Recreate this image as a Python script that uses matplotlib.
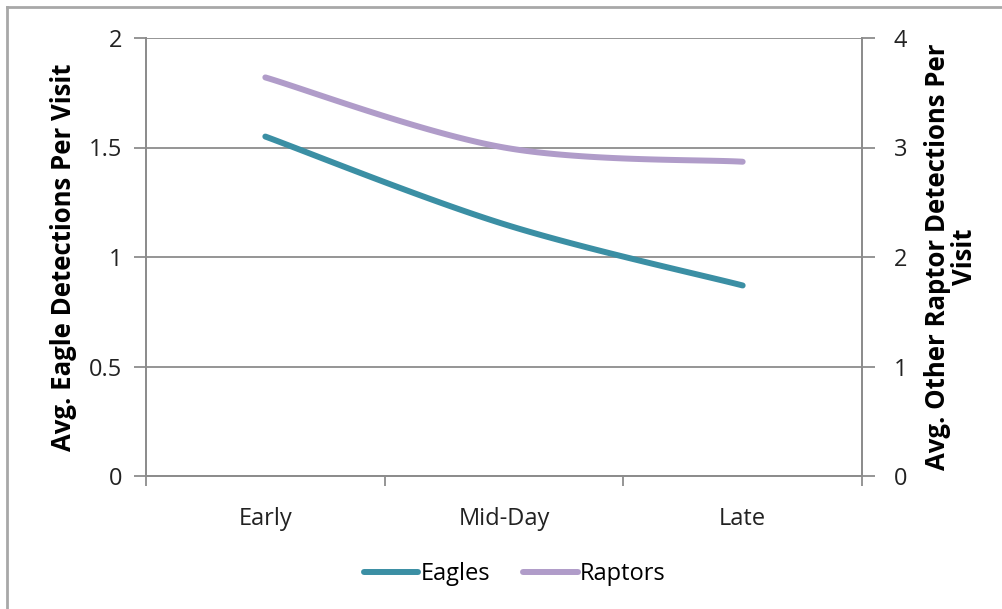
import numpy as np
import matplotlib.pyplot as plt
from matplotlib.lines import Line2D

plt.rcParams["font.family"] = ["Open Sans", "DejaVu Sans"]

periods = ["Early", "Mid-Day", "Late"]
eagles = [1.55, 1.15, 0.87]
raptors = [3.64, 3.00, 2.87]

EAGLE_COLOR = "#3b8fa4"
RAPTOR_COLOR = "#b09cc9"
GRID_COLOR = "#8c8c8c"
TEXT_COLOR = "#222222"
FS = 17
LABEL_FS = 18.5


def smooth(xs, ys, n=60):
    """Catmull-Rom style cubic Bezier through the points (like Excel's smoothed line)."""
    pts = np.column_stack([xs, ys]).astype(float)
    padded = np.vstack([pts[0], pts, pts[-1]])
    out = []
    t = np.linspace(0, 1, n)[:, None]
    for i in range(1, len(padded) - 2):
        p0, p1, p2, p3 = padded[i - 1], padded[i], padded[i + 1], padded[i + 2]
        c1 = p1 + (p2 - p0) / 6
        c2 = p2 - (p3 - p1) / 6
        seg = ((1 - t) ** 3) * p1 + 3 * ((1 - t) ** 2) * t * c1 + 3 * (1 - t) * t ** 2 * c2 + t ** 3 * p2
        out.append(seg if i == 1 else seg[1:])
    seg = np.vstack(out)
    return seg[:, 0], seg[:, 1]


fig = plt.figure(figsize=(10.02, 6.09), dpi=100)
ax = fig.add_axes([146 / 1002, 1 - 476 / 609, (862 - 146) / 1002, (476 - 38) / 609])
ax2 = ax.twinx()

x = np.arange(len(periods))
ex, ey = smooth(x, eagles)
rx, ry = smooth(x, raptors)
ax.plot(ex, ey, color=EAGLE_COLOR, lw=4.3, solid_capstyle="round", zorder=3)
ax2.plot(rx, ry, color=RAPTOR_COLOR, lw=4.3, solid_capstyle="round", zorder=3)

ax.set_xlim(-0.5, len(periods) - 0.5)
ax.set_ylim(0, 2)
ax2.set_ylim(0, 4)
ax.set_yticks([0, 0.5, 1, 1.5, 2])
ax.set_yticklabels(["0", "0.5", "1", "1.5", "2"])
ax2.set_yticks([0, 1, 2, 3, 4])

ax.set_xticks(x)
ax.set_xticklabels(periods)
ax.set_xticks(np.arange(-0.5, len(periods)), minor=True)
ax.tick_params(axis="x", which="major", length=0, pad=22, labelsize=FS, colors=TEXT_COLOR)
ax.tick_params(axis="x", which="minor", length=7, width=1.3, color=GRID_COLOR)
ax.tick_params(axis="y", length=9, width=1.3, color=GRID_COLOR, labelsize=FS,
               labelcolor=TEXT_COLOR, pad=8)
ax2.tick_params(axis="y", length=9, width=1.3, color=GRID_COLOR, labelsize=FS,
                labelcolor=TEXT_COLOR, pad=14)

ax.grid(axis="y", color=GRID_COLOR, lw=1.3)
ax.set_axisbelow(True)
for a in (ax, ax2):
    for side, sp in a.spines.items():
        sp.set_color(GRID_COLOR)
        sp.set_linewidth(1.3)
    a.spines["top"].set_visible(False)

ax.set_ylabel("Avg. Eagle Detections Per Visit", fontsize=LABEL_FS, fontweight="bold", labelpad=9)
ax2.set_ylabel("Avg. Other Raptor Detections Per\nVisit", fontsize=LABEL_FS, fontweight="bold",
               rotation=90, labelpad=12, linespacing=1.0)

handles = [Line2D([], [], color=EAGLE_COLOR, lw=4.3, solid_capstyle="round"),
           Line2D([], [], color=RAPTOR_COLOR, lw=4.3, solid_capstyle="round")]
fig.legend(handles, ["Eagles", "Raptors"], loc="center", bbox_to_anchor=(0.514, 1 - 574 / 609),
           ncol=2, frameon=False, fontsize=FS, handlelength=2.3, handletextpad=0.1,
           columnspacing=1.4)

# outer chart frame
fig.add_artist(Line2D([7 / 1002, 7 / 1002], [0, 1 - 7 / 609], transform=fig.transFigure,
                      color="#a8a8a8", lw=2))
fig.add_artist(Line2D([7 / 1002, 1], [1 - 7 / 609, 1 - 7 / 609], transform=fig.transFigure,
                      color="#a8a8a8", lw=2))

fig.savefig("out.png", dpi=100)
